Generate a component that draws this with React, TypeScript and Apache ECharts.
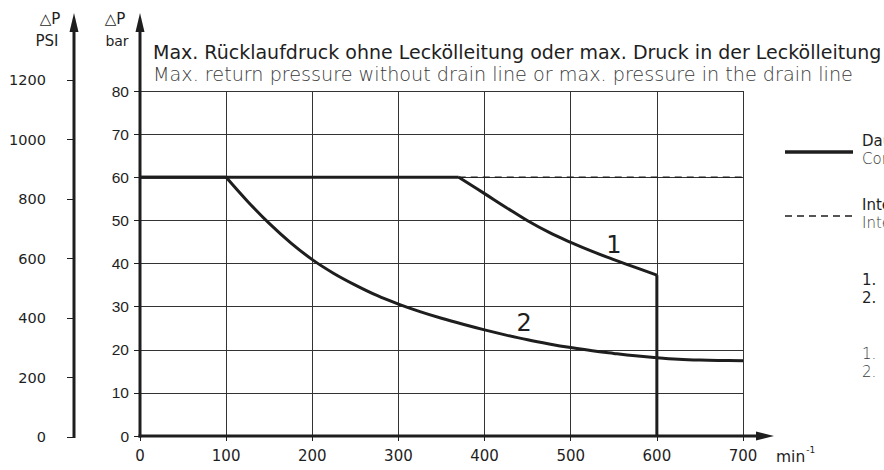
import React, { useEffect, useRef } from "react";
import * as echarts from "echarts";

const speedTicks = [0, 100, 200, 300, 400, 500, 600, 700];
const barTicks = [0, 10, 20, 30, 40, 50, 60, 70, 80];
const psiTicks = [0, 200, 400, 600, 800, 1000, 1200];

// Curve 1 (continuous operation)
const curve1Flat = [[0, 60], [370, 60]];
const curve1Fall = [
  [370, 60], [400, 56.2], [425, 53.0], [450, 49.9], [475, 47.2], [500, 44.9],
  [525, 42.8], [550, 40.9], [575, 39.1], [600, 37.3],
];
const curve1Drop = [[600, 37.3], [600, 0]];
// Curve 2
const curve2Flat = [[0, 60], [100, 60]];
const curve2Fall = [
  [100, 60], [125, 54.4], [150, 49.3], [175, 44.8], [200, 40.9], [225, 37.7], [250, 35.0],
  [275, 32.6], [300, 30.6], [325, 28.85], [350, 27.3], [375, 25.9], [400, 24.6], [425, 23.4],
  [450, 22.3], [475, 21.35], [500, 20.5], [525, 19.75], [550, 19.15], [575, 18.6], [600, 18.15],
  [625, 17.8], [650, 17.6], [675, 17.5], [700, 17.45],
];
// Intermittent operation (dashed)
const intermittent = [[370, 60], [700, 60]];
// Curve labels
const curveLabels = [
  { name: "1", value: [550, 44.2] },
  { name: "2", value: [446, 26.3] },
];

const titleDe = "Max. Rücklaufdruck ohne Leckölleitung oder max. Druck in der Leckölleitung";
const titleEn = "Max. return pressure without drain line or max. pressure in the drain line";
const legendItems = [
  { de: "Dauerbetrieb", en: "Continuous operation", dashed: false },
  { de: "Intermittierender Betrieb", en: "Intermittent operation", dashed: true },
];
const notesDe = ["1.", "2."];
const notesEn = ["1.", "2."];

const FONT = "'DejaVu Sans'";
const NUMFONT = "'Liberation Sans'";
const INK = "#1e1e1e";
const GREY = "#3a3a3a";

export default function App() {
  const ref = useRef<HTMLDivElement>(null);
  useEffect(() => {
    document.body.style.margin = "0";
    const chart = echarts.init(ref.current!, null, { renderer: "svg" });
    const line = (data: number[][], width: number, smooth: boolean | number, dashed = false) => ({
      type: "line",
      data,
      xAxisIndex: 0,
      yAxisIndex: 0,
      smooth,
      symbol: "none",
      lineStyle: { color: INK, width, type: dashed ? [7, 5] : "solid", cap: "butt", join: "round" },
      silent: true,
      z: 3,
    });
    const option: any = {
      animation: false,
      backgroundColor: "#fff",
      textStyle: { fontFamily: FONT },
      grid: [
        { left: 140, right: 141, top: 91, bottom: 34 },
        { left: 74, width: 10, top: 80, bottom: 33 },
      ],
      xAxis: [
        {
          gridIndex: 0,
          type: "value",
          min: 0,
          max: 700,
          interval: 100,
          axisLine: { show: false },
          axisTick: { show: true, length: 5, lineStyle: { color: INK, width: 1 } },
          axisLabel: {
            color: INK,
            fontSize: 15,
            fontFamily: FONT,
            margin: 12,
            formatter: (v: number) => (speedTicks.includes(v) ? String(v) : ""),
          },
          splitLine: { show: true, lineStyle: { color: "#333", width: 1 } },
        },
        { gridIndex: 1, type: "value", show: false, min: 0, max: 1 },
      ],
      yAxis: [
        {
          gridIndex: 0,
          type: "value",
          min: 0,
          max: 80,
          interval: 10,
          axisLine: { show: false },
          axisTick: { show: true, length: 6, lineStyle: { color: INK, width: 1 } },
          axisLabel: {
            color: INK,
            fontSize: 15.5,
            fontFamily: NUMFONT,
            margin: 11,
            formatter: (v: number) => (barTicks.includes(v) ? String(v) : ""),
          },
          splitLine: { show: true, lineStyle: { color: "#333", width: 1 } },
        },
        {
          gridIndex: 1,
          type: "value",
          min: 0,
          max: 1200,
          interval: 200,
          axisLine: { show: false },
          axisTick: { show: true, length: 7, lineStyle: { color: INK, width: 1 } },
          axisLabel: {
            color: INK,
            fontSize: 14.5,
            fontFamily: FONT,
            margin: 28,
            formatter: (v: number) => (psiTicks.includes(v) ? String(v) : ""),
          },
          splitLine: { show: false },
        },
      ],
      series: [
        line(intermittent, 1.3, false, true),
        line(curve1Flat, 3, false),
        line(curve1Fall, 3, 0.4),
        line(curve1Drop, 3, false),
        line(curve2Flat, 3, false),
        line(curve2Fall, 3, 0.4),
      ],
    };
    chart.setOption(option);

    const o = chart.convertToPixel({ gridIndex: 0 }, [0, 0]) as number[];
    const xEnd = chart.convertToPixel({ gridIndex: 0 }, [700, 0]) as number[];
    const psi0 = chart.convertToPixel({ gridIndex: 1 }, [0, 0]) as number[];
    const arrowTop = 13;
    const axisW = 3;
    const yArrow = (x: number) => ({
      type: "polygon",
      shape: { points: [[x, arrowTop], [x - 4.5, arrowTop + 19], [x + 4.5, arrowTop + 19]] },
      style: { fill: INK },
    });
    const xTip = xEnd[0] + 31;
    const legendX0 = 785;
    const legendX1 = 853;
    const legendTextX = 862;
    const legendRows = [152, 216];
    const g: any[] = [
      // bar axis
      { type: "line", shape: { x1: o[0], y1: o[1] + 1.5, x2: o[0], y2: arrowTop + 15 }, style: { stroke: INK, lineWidth: axisW } },
      yArrow(o[0]),
      // psi axis
      { type: "line", shape: { x1: psi0[0], y1: psi0[1] + 1, x2: psi0[0], y2: arrowTop + 15 }, style: { stroke: INK, lineWidth: axisW } },
      yArrow(psi0[0]),
      // x axis
      { type: "line", shape: { x1: o[0] - 1.5, y1: o[1], x2: xTip - 15, y2: o[1] }, style: { stroke: INK, lineWidth: axisW } },
      {
        type: "polygon",
        shape: { points: [[xTip, o[1]], [xTip - 18, o[1] - 4.5], [xTip - 18, o[1] + 4.5]] },
        style: { fill: INK },
      },
      // axis titles
      { type: "text", x: psi0[0] - 24, y: 19, style: { text: "△P", fill: INK, font: `15px ${FONT}`, align: "center", verticalAlign: "middle" } },
      { type: "text", x: psi0[0] - 27, y: 41, style: { text: "PSI", fill: INK, font: `15px ${FONT}`, align: "center", verticalAlign: "middle" } },
      { type: "text", x: o[0] - 25, y: 19, style: { text: "△P", fill: INK, font: `15px ${FONT}`, align: "center", verticalAlign: "middle" } },
      { type: "text", x: o[0] - 23, y: 41, style: { text: "bar", fill: INK, font: `14px ${FONT}`, align: "center", verticalAlign: "middle" } },
      // unit of x axis
      {
        type: "text",
        x: xEnd[0] + 33,
        y: o[1] + 21,
        style: {
          text: "{a|min}{b|-1}",
          verticalAlign: "middle",
          rich: {
            a: { fill: INK, font: `15.5px ${FONT}` },
            b: { fill: INK, font: `9px ${FONT}`, padding: [0, 0, 14, 1] },
          },
        },
      },
      // titles
      { type: "text", x: 153, y: 52, style: { text: titleDe, fill: INK, font: `19px ${FONT}`, verticalAlign: "middle" } },
      { type: "text", x: 153, y: 74, style: { text: titleEn, fill: GREY, font: `200 19.2px ${FONT}`, verticalAlign: "middle" } },
    ];
    curveLabels.forEach((c) => {
      const p = chart.convertToPixel({ gridIndex: 0 }, c.value) as number[];
      g.push({
        type: "text",
        x: p[0],
        y: p[1],
        style: { text: c.name, fill: INK, font: `24px ${FONT}`, align: "center", verticalAlign: "middle" },
      });
    });
    legendItems.forEach((it, i) => {
      const y = legendRows[i];
      g.push({
        type: "line",
        shape: { x1: legendX0, y1: y, x2: legendX1, y2: y },
        style: { stroke: INK, lineWidth: it.dashed ? 1.3 : 3.5, lineDash: it.dashed ? [7, 5] : null },
      });
      g.push({ type: "text", x: legendTextX, y: y - 11, style: { text: it.de, fill: INK, font: `15px ${FONT}`, verticalAlign: "middle" } });
      g.push({ type: "text", x: legendTextX, y: y + 7, style: { text: it.en, fill: GREY, font: `200 15px ${FONT}`, verticalAlign: "middle" } });
    });
    notesDe.forEach((t, i) => {
      g.push({ type: "text", x: legendTextX, y: 280 + i * 18, style: { text: t, fill: INK, font: `15px ${FONT}`, verticalAlign: "middle" } });
    });
    notesEn.forEach((t, i) => {
      g.push({ type: "text", x: legendTextX, y: 354 + i * 18, style: { text: t, fill: GREY, font: `200 15px ${FONT}`, verticalAlign: "middle" } });
    });
    chart.setOption({ graphic: g });
    return () => chart.dispose();
  }, []);
  return <div ref={ref} style={{ position: "fixed", left: 0, top: 0, width: 884, height: 470 }} />;
}
